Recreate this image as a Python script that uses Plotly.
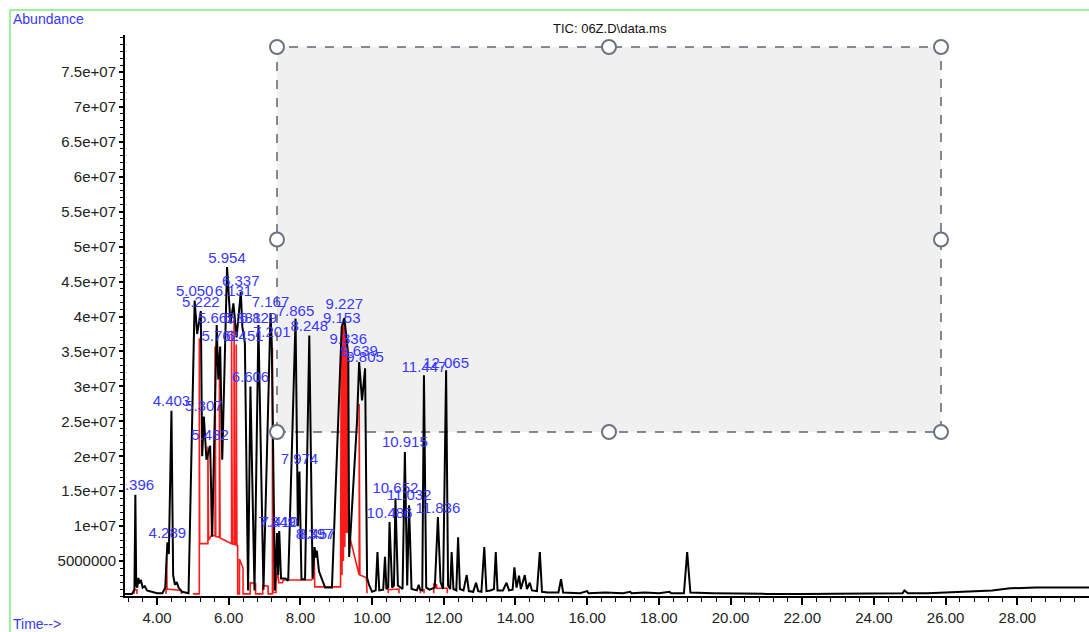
import plotly.graph_objects as go

# ---------------- data ----------------
# TIC trace vertices: retention time (min) and abundance (millions)
tic_time = [3.107, 3.30, 3.37, 3.396, 3.42, 3.45, 3.48, 3.51, 3.55, 3.60, 3.66, 3.72, 3.85, 4.00, 4.15,
            4.23, 4.289, 4.33, 4.403, 4.45, 4.50, 4.55, 4.60, 4.70, 4.88,
            5.050, 5.12, 5.222, 5.26, 5.307, 5.38, 5.482, 5.54, 5.665, 5.71, 5.762, 5.82, 5.954,
            6.05, 6.131, 6.22, 6.337, 6.381, 6.451, 6.54, 6.606, 6.72, 6.829, 6.97, 7.167, 7.201,
            7.29, 7.349, 7.38, 7.410, 7.46, 7.58, 7.66, 7.865, 7.93, 7.974, 8.03, 8.13, 8.248,
            8.34, 8.397, 8.43, 8.457, 8.52, 8.69, 8.88, 9.153, 9.227, 9.29, 9.336, 9.36, 9.58,
            9.639, 9.72, 9.805, 9.86, 9.92, 10.00, 10.10, 10.15, 10.20, 10.31, 10.36, 10.40,
            10.45, 10.486, 10.56, 10.61, 10.652, 10.72, 10.85, 10.915, 10.98, 11.032, 11.10,
            11.25, 11.30, 11.34, 11.40, 11.447, 11.51, 11.60, 11.75, 11.836, 11.91, 11.98,
            12.065, 12.12, 12.18, 12.22, 12.27, 12.35, 12.40, 12.45, 12.55, 12.64, 12.70,
            12.82, 12.90, 12.96, 13.05, 13.13, 13.19, 13.30, 13.40, 13.45, 13.50, 13.65,
            13.75, 13.82, 13.92, 13.97, 14.03, 14.10, 14.15, 14.26, 14.32, 14.40, 14.46,
            14.60, 14.68, 14.74, 14.90, 15.20, 15.27, 15.33, 15.80, 16.00, 16.04, 16.50,
            17.00, 17.20, 17.24, 17.60, 18.00, 18.30, 18.34, 18.70, 18.79, 18.88, 19.50,
            20.00, 21.00, 22.00, 23.00, 24.00, 24.80, 24.85, 24.95, 25.50, 26.00, 26.70,
            27.30, 27.80, 28.50, 30.00]
tic_abund = [0.3, 0.3, 0.9, 14.5, 1.5, 1.2, 2.6, 1.8, 2.3, 1.2, 1.4, 0.8, 0.6, 0.4, 0.4,
             1.2, 7.7, 6.0, 26.5, 3.0, 1.6, 2.0, 1.2, 0.6, 0.4,
             42.3, 37.5, 40.8, 20.0, 25.7, 19.5, 21.5, 8.5, 38.8, 31.0, 35.7, 19.5, 47.1,
             39.0, 41.9, 37.0, 43.5, 38.5, 36.2, 0.8, 30.0, 0.8, 38.8, 0.9, 40.5, 36.3,
             0.8, 9.0, 3.0, 9.3, 2.5, 2.5, 2.2, 39.7, 10.0, 17.8, 2.4, 2.4, 37.3,
             2.5, 7.0, 5.5, 6.5, 3.5, 1.2, 1.2, 38.5, 39.8, 36.5, 34.5, 5.6, 25.0,
             33.5, 28.0, 32.6, 2.6, 1.5, 0.6, 0.8, 6.3, 0.8, 0.9, 5.6, 1.0,
             1.2, 10.6, 1.2, 1.5, 14.0, 1.5, 1.0, 20.6, 1.5, 13.0, 1.0,
             0.8, 1.6, 0.9, 0.8, 31.6, 1.2, 0.9, 1.2, 11.3, 2.0, 1.0,
             32.3, 1.5, 1.0, 6.3, 1.0, 0.8, 8.4, 1.0, 0.8, 3.0, 0.7,
             0.6, 1.9, 0.7, 0.6, 7.0, 0.7, 0.8, 1.0, 6.3, 0.8, 0.8,
             1.9, 0.8, 0.9, 4.1, 1.2, 2.9, 1.0, 3.0, 1.0, 1.9, 0.8,
             0.7, 6.3, 0.6, 0.5, 0.5, 2.4, 0.5, 0.4, 0.7, 0.4, 0.5,
             0.4, 0.6, 0.4, 0.5, 0.4, 0.6, 0.4, 0.4, 6.3, 0.5, 0.4,
             0.35, 0.3, 0.3, 0.35, 0.4, 0.4, 0.8, 0.4, 0.4, 0.5, 0.7,
             0.8, 1.1, 1.2, 1.2]

# integration (red) trace vertices, None = break
int_time = [3.36, 3.36, 3.44, 3.44, None,
            4.25, 4.27, 4.28, 4.68, 4.68, None,
            5.00, 5.18, 5.18, 5.19, 5.42, 5.42, 5.44, 5.52, 5.52, 5.54, 5.62, 5.62, 5.64,
            5.74, 5.74, 5.76, 6.08, 6.08, 6.10, 6.15, 6.15, 6.17, 6.21, 6.21, 6.23, 6.25,
            6.25, 6.30, 6.30, 6.36, 6.40, 6.40, 6.60, 6.60, 6.75, 6.75, 6.95, 6.95, 7.10,
            7.10, 7.22, 7.22, 7.24, 7.32, 7.32, 7.36, 7.40, 7.50, 7.52, 8.30, 8.38, 8.38,
            8.40, 9.12, 9.12, 9.14, 9.14, 9.16, 9.16, 9.18, 9.18, 9.20, 9.20, 9.22, 9.22,
            9.24, 9.24, 9.26, 9.26, 9.28, 9.28, 9.30, 9.30, 9.32, 9.32, 9.35, 9.62, 9.64,
            9.64, 9.66, 9.84, 9.86, None,
            10.45, 10.45, 10.75, 10.75, None,
            11.35, 11.35, 11.45, 11.45, None,
            11.72, 11.72, 11.80, 11.80, 12.10, 12.10]
int_abund = [0.3, 0.9, 0.9, 0.3, None,
             0.3, 5.5, 1.0, 0.8, 0.3, None,
             0.3, 0.3, 36.9, 7.5, 7.5, 21.4, 8.0, 8.7, 14.0, 8.7, 8.6, 35.7, 8.5,
             8.4, 34.0, 8.3, 7.5, 38.0, 7.5, 7.4, 39.5, 7.4, 7.3, 36.0, 7.2, 7.2,
             0.3, 0.3, 5.3, 4.5, 4.0, 0.3, 0.3, 1.9, 1.8, 0.3, 0.3, 1.5, 1.4,
             0.3, 0.3, 35.5, 0.5, 0.5, 1.8, 3.7, 1.9, 1.9, 2.3, 2.3, 2.6, 7.0,
             1.3, 1.3, 34.0, 2.0, 37.0, 3.0, 38.0, 4.0, 38.5, 5.0, 39.0, 6.0, 39.0,
             7.0, 38.0, 8.0, 37.0, 9.0, 36.0, 9.0, 35.0, 9.0, 30.0, 9.0, 3.0, 3.0,
             27.5, 3.0, 2.6, 0.4, None,
             0.4, 0.9, 1.0, 0.4, None,
             0.4, 0.9, 0.9, 0.4, None,
             0.4, 1.7, 1.6, 1.1, 1.1, 0.4]

# peak labels: text, retention time, label anchor (millions)
peak_text = ["3.396", "4.289", "4.403", "5.050", "6.131", "5.222", "5.307", "5.482",
             "5.665", "6.381", "6.829", "5.762", "6.451", "5.954", "6.337", "6.606",
             "7.167", "7.201", "7.349", "7.410", "7.865", "7.974", "8.248", "8.397",
             "8.457", "9.227", "9.153", "9.336", "9.639", "9.805", "10.486", "10.652",
             "10.915", "11.032", "11.447", "11.836", "12.065"]
peak_time = [3.396, 4.289, 4.403, 5.050, 6.131, 5.222, 5.307, 5.482,
             5.665, 6.381, 6.829, 5.762, 6.451, 5.954, 6.337, 6.606,
             7.167, 7.201, 7.349, 7.410, 7.865, 7.974, 8.248, 8.397,
             8.457, 9.227, 9.153, 9.336, 9.639, 9.805, 10.486, 10.652,
             10.915, 11.032, 11.447, 11.836, 12.065]
peak_anchor = [14.7, 7.7, 26.6, 42.4, 42.4, 40.9, 25.9, 21.8,
               38.6, 38.6, 38.6, 35.9, 35.9, 47.2, 43.9, 30.1,
               40.8, 36.5, 9.3, 9.3, 39.5, 18.3, 37.4, 7.6,
               7.6, 40.5, 38.6, 35.5, 33.8, 32.9, 10.6, 14.2,
               20.8, 13.2, 31.5, 11.4, 32.1]

x_tick_vals = [4, 6, 8, 10, 12, 14, 16, 18, 20, 22, 24, 26, 28]
x_tick_text = ["4.00", "6.00", "8.00", "10.00", "12.00", "14.00", "16.00", "18.00",
               "20.00", "22.00", "24.00", "26.00", "28.00"]
y_tick_vals = [5e6, 1e7, 1.5e7, 2e7, 2.5e7, 3e7, 3.5e7, 4e7, 4.5e7, 5e7, 5.5e7, 6e7, 6.5e7, 7e7, 7.5e7]
y_tick_text = ["5000000", "1e+07", "1.5e+07", "2e+07", "2.5e+07", "3e+07", "3.5e+07", "4e+07",
               "4.5e+07", "5e+07", "5.5e+07", "6e+07", "6.5e+07", "7e+07", "7.5e+07"]

title_text = "TIC: 06Z.D\\data.ms"

# ---------------- layout geometry ----------------
W, H = 1089, 632
L, R, T, B = 125, 0, 35, 36
PW, PH = W - L - R, H - T - B


def px(x):
    return (x - L) / PW


def py(y):
    return (H - B - y) / PH


def scale(vals):
    return [None if v is None else v * 1e6 for v in vals]


FONT = "Liberation Sans, Arial, sans-serif"
BLUE = "#3838ff"

fig = go.Figure()
fig.add_trace(go.Scatter(x=int_time, y=scale(int_abund), mode="lines",
                         line=dict(color="#ff1a1a", width=1.6), connectgaps=False,
                         hoverinfo="skip", showlegend=False))
fig.add_trace(go.Scatter(x=tic_time, y=scale(tic_abund), mode="lines",
                         line=dict(color="#000000", width=2),
                         hoverinfo="skip", showlegend=False))
fig.add_trace(go.Scatter(x=peak_time, y=scale(peak_anchor), mode="text", text=peak_text,
                         textposition="top center", cliponaxis=True,
                         textfont=dict(family=FONT, size=15, color=BLUE),
                         hoverinfo="skip", showlegend=False))

shapes = []
# green frame
shapes.append(dict(type="line", xref="paper", yref="paper", x0=px(10), x1=px(W + 5), y0=py(10), y1=py(10),
                   line=dict(color="#9cf09c", width=2), layer="above"))
shapes.append(dict(type="line", xref="paper", yref="paper", x0=px(10), x1=px(10), y0=py(10), y1=py(H + 5),
                   line=dict(color="#9cf09c", width=2), layer="above"))
# selection rectangle
bx0, bx1, by0, by1 = 277, 941, 47, 432
shapes.append(dict(type="rect", xref="paper", yref="paper", x0=px(bx0), x1=px(bx1), y0=py(by1), y1=py(by0),
                   fillcolor="#f0f0f0", line=dict(color="#5c6372", width=1.5, dash="dash"), layer="below"))
bxm, bym = (bx0 + bx1) / 2, (by0 + by1) / 2
for hx, hy in [(bx0, by0), (bxm, by0), (bx1, by0), (bx0, bym), (bx1, bym), (bx0, by1), (bxm, by1), (bx1, by1)]:
    shapes.append(dict(type="circle", xref="paper", yref="paper", xsizemode="pixel", ysizemode="pixel",
                       xanchor=px(hx), yanchor=py(hy), x0=-7, x1=7, y0=-7, y1=7,
                       fillcolor="white", line=dict(color="#6b7280", width=2), layer="above"))

annotations = [
    dict(text="Abundance", xref="paper", yref="paper", x=px(11), y=py(19), xanchor="left", yanchor="middle",
         showarrow=False, font=dict(family=FONT, size=14, color=BLUE)),
    dict(text="Time-->", xref="paper", yref="paper", x=px(11), y=py(624), xanchor="left", yanchor="middle",
         showarrow=False, font=dict(family=FONT, size=14, color=BLUE)),
    dict(text=title_text, xref="paper", yref="paper", x=px(610), y=py(28), xanchor="center", yanchor="middle",
         showarrow=False, font=dict(family=FONT, size=13, color="#111111")),
]

fig.update_layout(
    width=W, height=H, autosize=False,
    margin=dict(l=L, r=R, t=T, b=B, pad=0),
    paper_bgcolor="white", plot_bgcolor="white",
    shapes=shapes, annotations=annotations, showlegend=False,
    xaxis=dict(range=[3.107, 30.0], showline=True, linecolor="black", linewidth=1.5,
               ticks="outside", ticklen=7, tickwidth=1.5, tickcolor="black",
               tickmode="array", tickvals=x_tick_vals, ticktext=x_tick_text,
               tickfont=dict(family=FONT, size=15, color="#222222"),
               showgrid=False, zeroline=False,
               minor=dict(tickmode="linear", tick0=4, dtick=0.4, ticks="outside", ticklen=4,
                          tickwidth=1.2, tickcolor="black", showgrid=False)),
    yaxis=dict(range=[0, 8.03e7], showline=True, linecolor="black", linewidth=2,
               ticks="outside", ticklen=4, tickwidth=1.5, tickcolor="black",
               tickmode="array", tickvals=y_tick_vals, ticktext=y_tick_text,
               tickfont=dict(family=FONT, size=15, color="#222222"),
               showgrid=False, zeroline=False,
               minor=dict(tickmode="linear", tick0=0, dtick=1e6, ticks="outside", ticklen=3,
                          tickwidth=1, tickcolor="black", showgrid=False)),
)

fig.write_html("out.html", config={"displayModeBar": False},
               post_script="document.body.style.margin='0';document.body.style.overflow='hidden';")
